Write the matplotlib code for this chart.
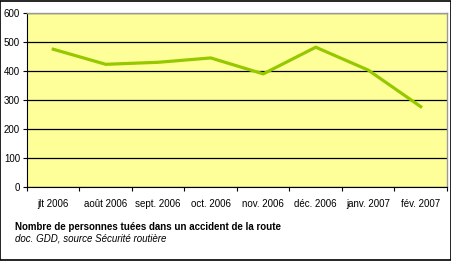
import matplotlib.pyplot as plt
from matplotlib.patches import Rectangle

plt.rcParams['font.family'] = ['Liberation Sans', 'DejaVu Sans']

months = ["jlt 2006", "août 2006", "sept. 2006", "oct. 2006",
          "nov. 2006", "déc. 2006", "janv. 2007", "fév. 2007"]
deaths = [474, 422, 429, 444, 389, 481, 402, 276]
y_ticks = [0, 100, 200, 300, 400, 500, 600]

fig = plt.figure(figsize=(4.52, 2.61), dpi=100)
ax = fig.add_axes([27 / 452, 1 - 186.7 / 261, 420 / 452, 174 / 261])
ax.set_facecolor("#FFFF99")

x = range(len(months))
ax.plot(x, deaths, color="#96C800", lw=2.3, solid_joinstyle="round", zorder=3)

ax.set_xlim(-0.5, len(months) - 0.5)
ax.set_ylim(0, 600)
ax.set_yticks(y_ticks)
ax.set_yticklabels([str(v) for v in y_ticks], fontsize=7)
ax.yaxis.grid(True, color="black", lw=0.9)
ax.set_axisbelow(True)

# ticks between categories, labels centred on each category
ax.set_xticks([i + 0.5 for i in range(-1, len(months))], minor=False)
ax.set_xticklabels([])
ax.set_xticks(list(x), minor=True)
ax.set_xticklabels(months, minor=True, fontsize=7)
ax.tick_params(axis="x", which="major", length=3, direction="out", color="black")
ax.tick_params(axis="x", which="minor", length=0, pad=9)
ax.tick_params(axis="y", length=3, direction="out", pad=2)

for s in ["top", "right"]:
    ax.spines[s].set_color("#999999")
    ax.spines[s].set_linewidth(1)
ax.spines["left"].set_color("black")
ax.spines["bottom"].set_color("black")

fig.text(15 / 452, 1 - 226.7 / 261, "Nombre de personnes tuées dans un accident de la route",
         fontsize=7, fontweight="bold", va="center", ha="left")
fig.text(15 / 452, 1 - 238.5 / 261, "doc. GDD, source Sécurité routière",
         fontsize=7, fontstyle="italic", va="center", ha="left")

fig.patches.append(Rectangle((0.001, 0.002), 0.997, 0.996, transform=fig.transFigure,
                             fill=False, edgecolor="black", lw=1.2))

fig.savefig("out.png", dpi=100)
